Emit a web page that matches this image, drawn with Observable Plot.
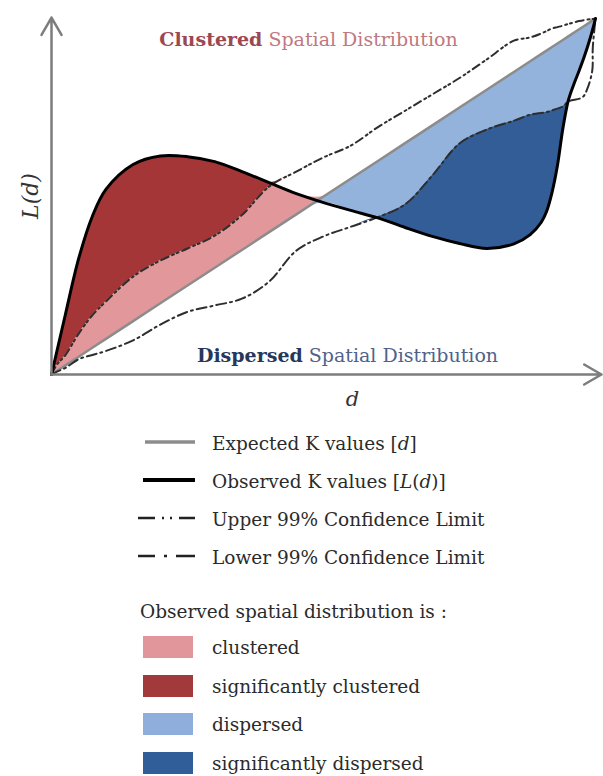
<!DOCTYPE html>
<html><head><meta charset="utf-8">
<script src="https://cdn.jsdelivr.net/npm/d3@7"></script>
<script src="https://cdn.jsdelivr.net/npm/@observablehq/plot@0.6"></script>
<style>
body{margin:0;background:#fff;}
#wrap{position:relative;width:603px;height:776px;overflow:hidden;font-family:"DejaVu Serif",serif;color:#2b2b2b;}
#wrap svg.plot{position:absolute;left:0;top:0;}
.row{position:absolute;left:0;height:38px;display:flex;align-items:center;font-size:18.5px;white-space:nowrap;}
.sw{position:absolute;}
.lbl{position:absolute;left:212px;}
</style></head><body><div id="wrap"></div>
<script>
// distance grid (d) and L(d) values (d and L share the same 0–100 scale)
const dGrid     = [0, 1, 2.5, 5, 7.5, 10, 15, 20, 25, 30, 35, 40, 45, 50, 55, 60, 65, 70, 75, 80, 85, 88, 90, 91, 92, 93, 94, 95, 96, 97, 98, 99, 100];
const observedL = [0, 6.6, 16.5, 32.6, 44.4, 52, 59, 61.4, 61.2, 59.8, 57, 53.9, 50.8, 48.3, 46.1, 44, 41.3, 38.8, 36.8, 35.4, 36.7, 39.3, 42.7, 45.8, 51.1, 58.7, 69.1, 77, 81.5, 85.4, 89.6, 94.4, 100];
const upperL    = [0, 2.8, 5.3, 11.5, 16.6, 20.5, 27.5, 32, 35.4, 39, 44.8, 52.8, 57, 61, 64.3, 69.5, 74.1, 78.7, 83.3, 88.5, 93.8, 94.7, 95.8, 96.5, 97.2, 97.6, 98, 98.5, 98.9, 99.3, 99.6, 99.8, 100];
const lowerL    = [0, 0.8, 1.8, 4.3, 5.5, 6.6, 9.6, 14, 17.6, 19.4, 21.3, 26.1, 34.8, 38.8, 41.5, 44.2, 47.8, 55.9, 64.9, 68.8, 71.3, 73, 73.5, 73.7, 74.2, 74.7, 75.3, 76.7, null, null, null, null, null];
// the lower limit loops back to the corner at the far right
const lowerTailD = [97.6, 98.5, 99.4, 99.5, 100];
const lowerTailL = [77.9, 80.3, 85.4, 91.9, 100];
const axisEnd = {d: 101.1, L: 100.3};

const annotations = [
  {bold: "Clustered", rest: "Spatial Distribution"},
  {bold: "Dispersed", rest: "Spatial Distribution"}
];
const lineLegend = [
  "Expected K values [<i>d</i>]",
  "Observed K values [<i>L</i>(<i>d</i>)]",
  "Upper 99% Confidence Limit",
  "Lower 99% Confidence Limit"
];
const fillHeading = "Observed spatial distribution is :";
const fillLegend = ["clustered", "significantly clustered", "dispersed", "significantly dispersed"];

// styles
const C = {
  pink: "#e2979a", darkRed: "#a43638", lightBlue: "#94b3dc", darkBlue: "#325d96",
  expected: "#8c8c8c", observed: "#000", limit: "#2e2e2e", axis: "#7d7d7d"
};
const annStyle = [
  {boldColor: "#9b4852", restColor: "#c07880", dx: -18, dy: 22, anchor: "top"},
  {boldColor: "#27375c", restColor: "#50628a", dx: 21, dy: -19, anchor: "bottom"}
];
const upperDash = "8,4,2,3,2,4";
const lowerDash = "10,4,2,4";

const rows = dGrid.map((d, i) => ({d, obs: observedL[i], up: upperL[i], lo: lowerL[i]}));
const lowerPath = rows.filter(r => r.lo != null).map(r => ({d: r.d, L: r.lo}))
  .concat(lowerTailD.map((d, i) => ({d, L: lowerTailL[i]})));
const axes = [
  {x1: 0, y1: 0, x2: axisEnd.d, y2: 0},
  {x1: 0, y1: 0, x2: 0, y2: axisEnd.L}
];
const curve = "catmull-rom";
const serif = "DejaVu Serif";

const svg = Plot.plot({
  width: 603, height: 412,
  marginLeft: 51, marginRight: 2, marginTop: 17, marginBottom: 38,
  x: {domain: [0, axisEnd.d], axis: null},
  y: {domain: [0, axisEnd.L], axis: null},
  style: {background: "transparent", fontFamily: serif},
  marks: [
    Plot.areaY(rows, {x: "d", y1: "d", y2: r => Math.max(r.d, r.obs), fill: C.pink, curve}),
    Plot.areaY(rows, {x: "d", y1: "up", y2: r => Math.max(r.up, r.obs), fill: C.darkRed, curve}),
    Plot.areaY(rows, {x: "d", y1: r => Math.min(r.d, r.obs), y2: "d", fill: C.lightBlue, curve}),
    Plot.areaY(rows, {x: "d", y1: r => r.lo == null ? NaN : Math.min(r.lo, r.obs), y2: r => r.lo == null ? NaN : r.lo, fill: C.darkBlue, curve}),
    Plot.line(rows, {x: "d", y: "d", stroke: C.expected, strokeWidth: 2.5}),
    Plot.line(lowerPath, {x: "d", y: "L", stroke: C.limit, strokeWidth: 2, strokeDasharray: lowerDash, curve}),
    Plot.line(rows, {x: "d", y: "up", stroke: C.limit, strokeWidth: 2, strokeDasharray: upperDash, curve}),
    Plot.line(rows, {x: "d", y: "obs", stroke: C.observed, strokeWidth: 3, curve}),
    Plot.arrow(axes, {x1: "x1", y1: "y1", x2: "x2", y2: "y2", stroke: C.axis, strokeWidth: 2.5, headLength: 12}),
    ...annotations.map((a, i) => Plot.text([a], {
      text: a => `${a.bold} ${a.rest}`, frameAnchor: annStyle[i].anchor,
      dx: annStyle[i].dx, dy: annStyle[i].dy, lineAnchor: "middle", textAnchor: "middle",
      fontSize: 19, fontFamily: serif
    })),
    Plot.text(["L(d)"], {frameAnchor: "left", dx: -21, rotate: -90, textAnchor: "middle", fontSize: 22, fontStyle: "italic", fontFamily: serif, fill: "#333", lineAnchor: "middle"}),
    Plot.text(["d"], {frameAnchor: "bottom", dx: 26, dy: 25, fontSize: 21, fontStyle: "italic", fontFamily: serif, fill: "#333", lineAnchor: "middle"})
  ]
});
svg.classList.add("plot");

// split annotations into bold + regular parts
d3.select(svg).selectAll("text").each(function () {
  const i = annotations.findIndex(a => `${a.bold} ${a.rest}` === this.textContent);
  if (i < 0) return;
  const a = annotations[i], s = annStyle[i];
  const t = d3.select(this).text(null);
  t.append("tspan").attr("font-weight", "bold").attr("fill", s.boldColor).text(a.bold);
  t.append("tspan").attr("fill", s.restColor).text(" " + a.rest);
});

const wrap = document.getElementById("wrap");
wrap.appendChild(svg);

const lineStyles = [
  {stroke: C.expected, width: 3.5, dash: null, x1: 8},
  {stroke: "#000", width: 4, dash: null, x1: 6},
  {stroke: "#222", width: 2.5, dash: "17,7,2,6,2,7,20", x1: 1},
  {stroke: "#222", width: 2.5, dash: "17,9,3,9,20", x1: 1}
];
const lineCenters = [443, 481, 519, 557];
lineLegend.forEach((label, i) => {
  const row = document.createElement("div");
  row.className = "row";
  row.style.top = (lineCenters[i] - 19) + "px";
  row.style.width = "603px";
  const s = lineStyles[i];
  row.innerHTML = `<svg class="sw" style="left:137px;top:13px" width="60" height="10">
    <line x1="${s.x1}" x2="58" y1="5" y2="5" stroke="${s.stroke}" stroke-width="${s.width}" ${s.dash ? `stroke-dasharray="${s.dash}"` : ""}/></svg>
    <span class="lbl">${label}</span>`;
  wrap.appendChild(row);
});
const head = document.createElement("div");
head.className = "row";
head.style.top = (611 - 19) + "px";
head.innerHTML = `<span style="position:absolute;left:140px">${fillHeading}</span>`;
wrap.appendChild(head);
const fillColors = ["#e0969a", "#a23a3c", "#8faedb", "#2f5e99"];
const fillCenters = [647, 686, 724, 763];
fillLegend.forEach((label, i) => {
  const row = document.createElement("div");
  row.className = "row";
  row.style.top = (fillCenters[i] - 19) + "px";
  row.style.width = "603px";
  row.innerHTML = `<div class="sw" style="left:143px;top:8px;width:50px;height:22px;background:${fillColors[i]}"></div>
    <span class="lbl">${label}</span>`;
  wrap.appendChild(row);
});
</script></body></html>
